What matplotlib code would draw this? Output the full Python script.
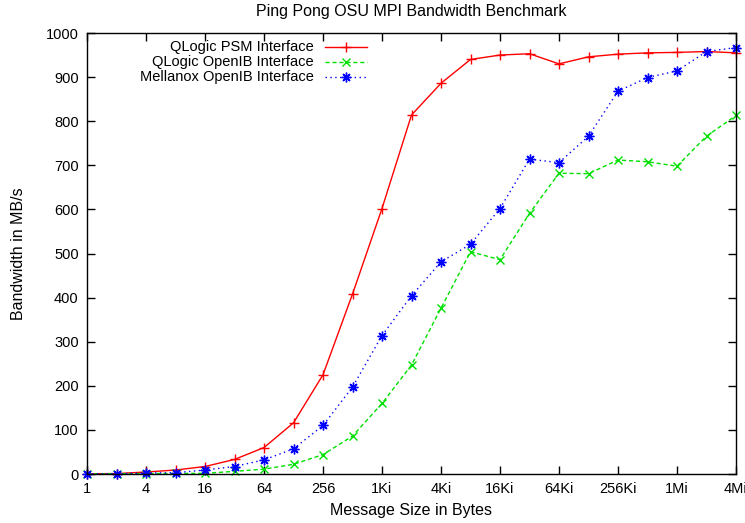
import matplotlib
matplotlib.use("Agg")
import matplotlib.pyplot as plt
from matplotlib.lines import Line2D
from matplotlib.ticker import FixedLocator, NullLocator

plt.rcParams['font.family'] = ['Liberation Sans', 'DejaVu Sans']
plt.rcParams['font.size'] = 10.5

sizes = [2 ** k for k in range(23)]
psm = [0.5, 1, 4.5, 9, 17, 33, 60, 116, 225, 408, 602, 814, 886, 940, 950, 953, 930, 946, 952, 955, 956, 958, 955]
qlogic_ib = [0.2, 0.5, 1, 1.2, 1.5, 6, 11, 22, 44, 86, 160, 247, 376, 504, 486, 591, 682, 681, 712, 708, 698, 766, 813]
mellanox = [0.3, 0.7, 2, 3, 9, 17, 32, 57, 110, 197, 314, 404, 481, 521, 602, 714, 706, 766, 868, 899, 914, 958, 967]

tick_vals = [4 ** k for k in range(12)]
tick_labels = ['1', '4', '16', '64', '256', '1Ki', '4Ki', '16Ki', '64Ki', '256Ki', '1Mi', '4Mi']
labels = ['QLogic PSM Interface', 'QLogic OpenIB Interface', 'Mellanox OpenIB Interface']

W, H = 745, 523
fig = plt.figure(figsize=(W / 100, H / 100), dpi=100)
ax = fig.add_axes([87 / W, 49 / H, (736 - 87) / W, (474 - 33) / H])

red = '#ff0000'
green = '#00e000'
blue = '#0000ff'
styles = [
    dict(color=red, linestyle='-', marker='+', markersize=7, markeredgewidth=1.0),
    dict(color=green, linestyle=(0, (3, 2)), marker='x', markersize=5.5, markeredgewidth=1.0),
    dict(color=blue, linestyle=(0, (1, 2.5)), marker=(8, 2, 0), markersize=7, markeredgewidth=1.0),
]
series = [psm, qlogic_ib, mellanox]
for ys, st in zip(series, styles):
    ax.plot(sizes, ys, linewidth=1, clip_on=False, **st)

ax.set_xscale('log', base=2)
ax.set_xlim(1, 2 ** 22)
ax.set_ylim(0, 1000)
ax.xaxis.set_major_locator(FixedLocator(tick_vals))
ax.xaxis.set_minor_locator(NullLocator())
ax.set_xticklabels(tick_labels)
ax.set_yticks(range(0, 1001, 100))
ax.tick_params(direction='in', top=True, right=True, length=6, width=1, labelsize=10.5, pad=6)
for sp in ax.spines.values():
    sp.set_linewidth(1)
    sp.set_color('black')

ax.set_title('Ping Pong OSU MPI Bandwidth Benchmark', fontsize=11.5, pad=12)
ax.set_xlabel('Message Size in Bytes', fontsize=11.5, labelpad=5)
ax.set_ylabel('Bandwidth in MB/s', fontsize=11.5, labelpad=14)

# legend drawn gnuplot-style: right-aligned text, sample to the right
row_y = [47, 62, 77]
for lab, st, yp in zip(labels, styles, row_y):
    yf = 1 - (yp - 33) / (474 - 33)
    xt = (314 - 87) / (736 - 87)
    x0 = (325 - 87) / (736 - 87)
    x1 = (367 - 87) / (736 - 87)
    ax.text(xt, yf, lab, transform=ax.transAxes, ha='right', va='center', fontsize=10.5)
    ax.add_line(Line2D([x0, x1], [yf, yf], transform=ax.transAxes, linewidth=1,
                       color=st['color'], linestyle=st['linestyle']))
    ax.add_line(Line2D([(x0 + x1) / 2], [yf], transform=ax.transAxes, linestyle='none',
                       color=st['color'], marker=st['marker'], markersize=st['markersize'],
                       markeredgewidth=st['markeredgewidth']))

fig.savefig('out.png', dpi=100)
